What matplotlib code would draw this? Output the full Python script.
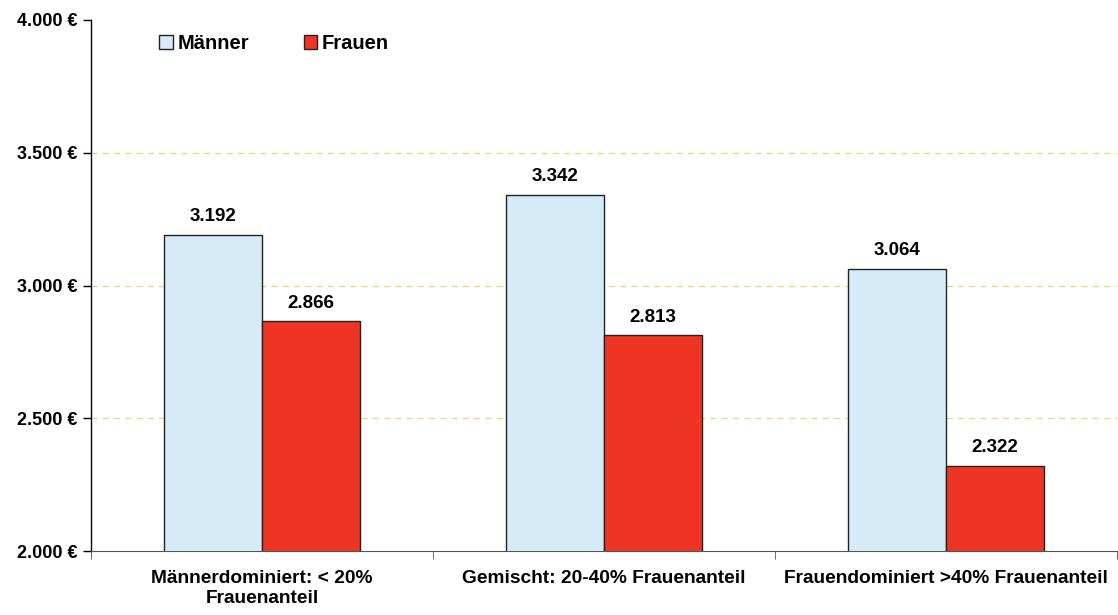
import matplotlib
matplotlib.use("Agg")
import matplotlib.pyplot as plt
import numpy as np

categories = ["Männerdominiert: < 20%\nFrauenanteil",
              "Gemischt: 20-40% Frauenanteil",
              "Frauendominiert >40% Frauenanteil"]
maenner = [3192, 3342, 3064]
frauen = [2866, 2813, 2322]
series_names = ["Männer", "Frauen"]
yticks = [2000, 2500, 3000, 3500, 4000]


def fmt_de(v: int) -> str:
    return f"{v:,}".replace(",", ".")


plt.rcParams["font.family"] = ["Liberation Sans", "DejaVu Sans"]
plt.rcParams["font.weight"] = "bold"

fig = plt.figure(figsize=(11.18, 6.15), dpi=100)
ax = fig.add_axes([0.0814, 0.104, 0.918, 0.8635])

x = np.arange(len(categories))
w = 0.286
c_m = "#D5ECF8"
c_f = "#EE3524"
b1 = ax.bar(x - w / 2, maenner, w, color=c_m, edgecolor="#222222", linewidth=1.0,
            label=series_names[0], zorder=3)
b2 = ax.bar(x + w / 2, frauen, w, color=c_f, edgecolor="#222222", linewidth=1.0,
            label=series_names[1], zorder=3)

for bars, vals in ((b1, maenner), (b2, frauen)):
    for rect, v in zip(bars, vals):
        ax.text(rect.get_x() + rect.get_width() / 2, v + 35, fmt_de(v),
                ha="center", va="bottom", fontsize=13.5, fontweight="bold")

ax.set_xlim(-0.5, len(categories) - 0.5)
ax.set_ylim(2000, 4000)
ax.set_yticks(yticks)
ax.set_yticklabels([f"{fmt_de(v)} €" for v in yticks], fontsize=13, fontweight="bold")
for g in yticks[1:-1]:
    ax.axhline(g, linestyle=(0, (5, 4)), color="#F3D27A", linewidth=0.9, zorder=0)

ax.set_xticks(x)
ax.set_xticklabels(categories, fontsize=13.8, fontweight="bold")
ax.tick_params(axis="x", length=0, pad=14)
ax.set_xticks(np.arange(len(categories) + 1) - 0.5, minor=True)
ax.tick_params(axis="x", which="minor", length=6, direction="out", color="#555555")
ax.tick_params(axis="y", length=6, direction="out", width=1.0)

for s in ("top", "right"):
    ax.spines[s].set_visible(False)
ax.spines["left"].set_linewidth(1.0)
ax.spines["bottom"].set_color("#555555")

ax.legend(loc="upper left", bbox_to_anchor=(0.049, 1.008), ncol=2, frameon=False,
          handlelength=0.65, handleheight=0.65, handletextpad=0.25,
          columnspacing=2.7, prop={"weight": "bold", "size": 14.5})

fig.savefig("out.png", dpi=100)
